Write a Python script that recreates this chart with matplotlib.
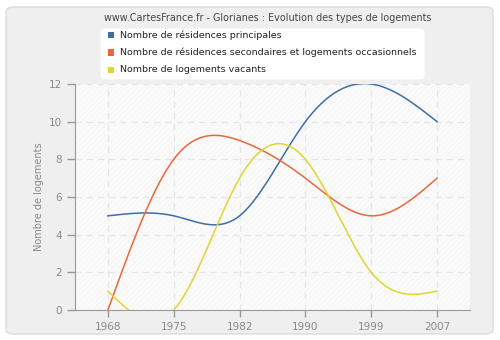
import numpy as np
import matplotlib
matplotlib.use("Agg")
import matplotlib.pyplot as plt
from matplotlib.patches import FancyBboxPatch, Rectangle

years = ["1968", "1975", "1982", "1990", "1999", "2007"]
principales = [5, 5, 5, 10, 12, 10]
secondaires = [0, 8, 9, 7, 5, 7]
vacants = [1, 0, 7, 8, 2, 1]
labels = ["Nombre de résidences principales",
          "Nombre de résidences secondaires et logements occasionnels",
          "Nombre de logements vacants"]
colors = ["#3d6ea5", "#e8683a", "#e0d52e"]
yticks = [0, 2, 4, 6, 8, 10, 12]


def natural_spline(y, n=400):
    y = np.asarray(y, float)
    k = len(y)
    A = np.zeros((k, k))
    b = np.zeros(k)
    A[0, 0] = 1
    A[-1, -1] = 1
    for i in range(1, k - 1):
        A[i, i - 1] = 1
        A[i, i] = 4
        A[i, i + 1] = 1
        b[i] = 6 * (y[i + 1] - 2 * y[i] + y[i - 1])
    M = np.linalg.solve(A, b)
    xs = np.linspace(0, k - 1, n)
    ys = np.empty_like(xs)
    for j, x in enumerate(xs):
        i = min(int(np.floor(x)), k - 2)
        t = x - i
        ys[j] = (y[i] * (1 - t) + y[i + 1] * t
                 + ((1 - t) ** 3 - (1 - t)) * M[i] / 6
                 + (t ** 3 - t) * M[i + 1] / 6)
    return xs, ys


plt.rcParams['font.family'] = ['DejaVu Sans']
plt.rcParams['hatch.linewidth'] = 0.6
fig = plt.figure(figsize=(5, 3.4), dpi=100, facecolor="white")

# outer rounded frame
frame = FancyBboxPatch((6 / 500, 6 / 340), 487 / 500, 327 / 340,
                       boxstyle="round,pad=0,rounding_size=0.015",
                       transform=fig.transFigure, facecolor="#efefef",
                       edgecolor="#dcdcdc", linewidth=1, zorder=0)
fig.patches.append(frame)

ax = fig.add_axes([75 / 500, 30 / 340, 395 / 500, 226 / 340])
ax.set_zorder(2)
ax.set_facecolor("#f8f8f8")
ax.add_patch(Rectangle((0, 0), 1, 1, transform=ax.transAxes, facecolor="none",
                       edgecolor="white", hatch="//////", linewidth=0, zorder=0))

ax.set_xlim(-0.5, len(years) - 0.5)
ax.set_ylim(0, 12)
ax.set_xticks(range(len(years)))
ax.set_xticklabels(years)
ax.set_yticks(yticks)
ax.grid(True, color="#e6e6e6", linestyle=(0, (5, 4)), linewidth=0.9)
ax.set_axisbelow(True)

for s in ["top", "right"]:
    ax.spines[s].set_visible(False)
for s in ["left", "bottom"]:
    ax.spines[s].set_color("#999999")
ax.tick_params(axis="both", colors="#999999", labelcolor="#888888",
               labelsize=7.5, length=5, width=1)
ax.tick_params(axis="y", length=6)
ax.set_ylabel("Nombre de logements", color="#888888", fontsize=7, labelpad=3)

for series, c in zip([principales, secondaires, vacants], colors):
    xs, ys = natural_spline(series)
    ax.plot(xs, ys, color=c, linewidth=1.1, zorder=3, clip_on=True)

fig.text(268 / 500, 1 - 18 / 340,
         "www.CartesFrance.fr - Glorianes : Evolution des types de logements",
         ha="center", va="center", fontsize=6.9, color="#444444")

# legend box
lg = FancyBboxPatch((100 / 500, 1 - 80 / 340), 325 / 500, 52 / 340,
                    boxstyle="round,pad=0,rounding_size=0.012",
                    transform=fig.transFigure, facecolor="white",
                    edgecolor="#f0f0f0", linewidth=0.8, zorder=1)
fig.patches.append(lg)
for i, (lab, c) in enumerate(zip(labels, colors)):
    yy = 1 - (35 + 17.5 * i) / 340
    fig.patches.append(Rectangle((108 / 500, yy - 3 / 340), 6 / 500, 6 / 340,
                                 transform=fig.transFigure, facecolor=c,
                                 edgecolor="none", zorder=2))
    fig.text(120 / 500, yy, lab, ha="left", va="center", fontsize=6.8,
             color="#222222", zorder=3)

fig.savefig("out.png", dpi=100, facecolor=fig.get_facecolor())
